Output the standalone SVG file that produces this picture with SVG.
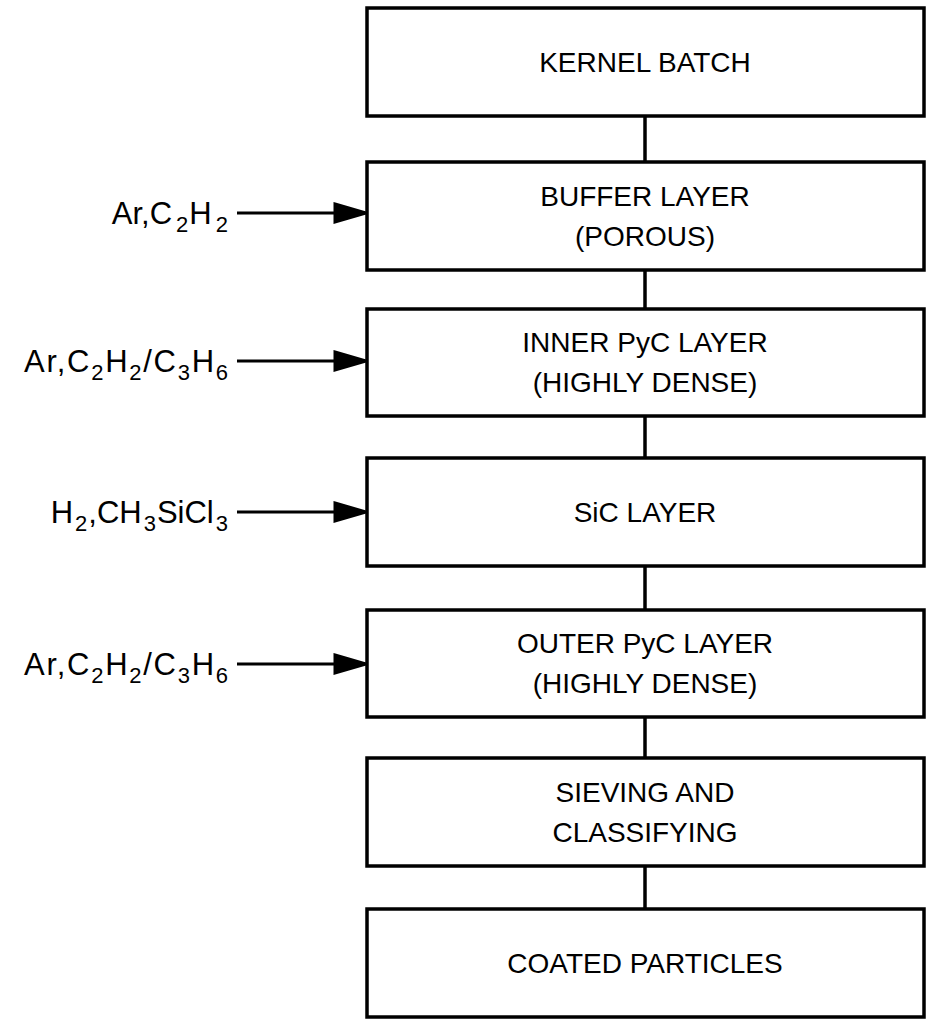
<svg xmlns="http://www.w3.org/2000/svg" width="938" height="1025" viewBox="0 0 938 1025">
<style>
.b{fill:#fff;stroke:#000;stroke-width:3.5}
.t{font-family:"Liberation Sans",Arial,sans-serif;font-size:28px;text-anchor:middle;fill:#000}
.l{font-family:"Liberation Sans",Arial,sans-serif;font-size:31px;fill:#000;text-anchor:end}
.s{font-size:22px}
.c{stroke:#000;stroke-width:3.5;fill:none}
</style>
<rect width="938" height="1025" fill="#fff"/>
<g id="connectors">
<line class="c" x1="645" y1="116" x2="645" y2="162"/>
<line class="c" x1="645" y1="270" x2="645" y2="309"/>
<line class="c" x1="645" y1="416" x2="645" y2="458"/>
<line class="c" x1="645" y1="566" x2="645" y2="610"/>
<line class="c" x1="645" y1="717" x2="645" y2="758"/>
<line class="c" x1="645" y1="866" x2="645" y2="909"/>
<g stroke="#000" stroke-width="3">
<line x1="237" y1="213" x2="335" y2="213"/><polygon points="335,204 366,213 335,222" fill="#000"/>
<line x1="237" y1="361" x2="335" y2="361"/><polygon points="335,352 366,361 335,370" fill="#000"/>
<line x1="237" y1="512" x2="335" y2="512"/><polygon points="335,503 366,512 335,521" fill="#000"/>
<line x1="237" y1="664" x2="335" y2="664"/><polygon points="335,655 366,664 335,673" fill="#000"/>
</g>
</g>
<g id="n1"><rect class="b" x="367" y="8" width="557" height="108"/><text class="t" x="645" y="72">KERNEL BATCH</text></g>
<g id="n2"><rect class="b" x="367" y="162" width="557" height="108"/><text class="t" x="645" y="206">BUFFER LAYER</text><text class="t" x="645" y="246">(POROUS)</text></g>
<g id="n3"><rect class="b" x="367" y="309" width="557" height="107"/><text class="t" x="645" y="352">INNER PyC LAYER</text><text class="t" x="645" y="392">(HIGHLY DENSE)</text></g>
<g id="n4"><rect class="b" x="367" y="458" width="557" height="108"/><text class="t" x="645" y="522">SiC LAYER</text></g>
<g id="n5"><rect class="b" x="367" y="610" width="557" height="107"/><text class="t" x="645" y="653">OUTER PyC LAYER</text><text class="t" x="645" y="693">(HIGHLY DENSE)</text></g>
<g id="n6"><rect class="b" x="367" y="758" width="557" height="108"/><text class="t" x="645" y="802">SIEVING AND</text><text class="t" x="645" y="842">CLASSIFYING</text></g>
<g id="n7"><rect class="b" x="367" y="909" width="557" height="108"/><text class="t" x="645" y="973">COATED PARTICLES</text></g>
<g id="labels">
<text class="l" x="228" y="224">Ar,C<tspan class="s" dx="4" dy="8">2</tspan><tspan dx="1" dy="-8">H</tspan><tspan class="s" dx="4" dy="8">2</tspan></text>
<text class="l" x="228" y="372" textLength="204" lengthAdjust="spacing">Ar,C<tspan class="s" dy="8">2</tspan><tspan dy="-8">H</tspan><tspan class="s" dy="8">2</tspan><tspan dy="-8">/C</tspan><tspan class="s" dy="8">3</tspan><tspan dy="-8">H</tspan><tspan class="s" dy="8">6</tspan></text>
<text class="l" x="228" y="523">H<tspan class="s" dx="2" dy="8">2</tspan><tspan dx="1" dy="-8">,CH</tspan><tspan class="s" dx="2" dy="8">3</tspan><tspan dx="1" dy="-8">SiCl</tspan><tspan class="s" dx="2" dy="8">3</tspan></text>
<text class="l" x="228" y="675" textLength="204" lengthAdjust="spacing">Ar,C<tspan class="s" dy="8">2</tspan><tspan dy="-8">H</tspan><tspan class="s" dy="8">2</tspan><tspan dy="-8">/C</tspan><tspan class="s" dy="8">3</tspan><tspan dy="-8">H</tspan><tspan class="s" dy="8">6</tspan></text>
</g>
</svg>
